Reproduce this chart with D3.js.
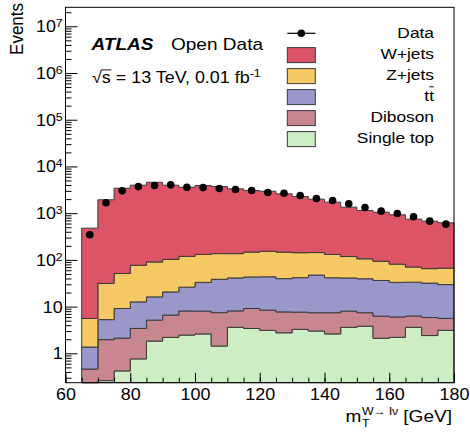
<!DOCTYPE html>
<html>
<head>
<meta charset="utf-8">
<script src="https://cdn.jsdelivr.net/npm/d3@7"></script>
<style>
	body { margin: 0; background: #fff; }
	text { font-family: "Liberation Sans", Arial, sans-serif; fill: #000; }
</style>
</head>
<body>
<script>

	// bin lower edges [GeV], width 5
	var binLow = [65, 70, 75, 80, 85, 90, 95, 100, 105, 110, 115, 120, 125, 130, 135, 140, 145, 150, 155, 160, 165, 170, 175];
	var binWidth = 5;

	// events per bin
	var data      = [346, 1667, 3006, 3708, 3900, 4036, 3589, 3527, 3365, 3200, 3050, 2763, 2672, 2384, 2058, 1866, 1585, 1322, 1104, 985, 838, 675, 582];
	var wjets     = [472, 1901, 3363, 3886, 4490, 3860, 3470, 3769, 3572, 3177, 2903, 2793, 2441, 2127, 1847, 1588, 1225, 1035, 957, 843, 675, 610, 557];
	var zjets     = [4.2, 26, 42, 64, 74, 82, 93, 98, 98, 95, 104, 110, 107, 101, 96, 89, 77, 66, 57, 48, 37, 33, 37];
	var ttbar     = [0.9, 3.3, 7.0, 9.2, 11, 14, 18, 25, 31, 33, 34, 35, 32, 34, 40, 34, 33, 32, 30, 27, 27, 26, 24];
	var diboson   = [0.36, 1.7, 1.7, 2.65, 3.3, 4.4, 5.6, 5.4, 6.0, 4.5, 5.7, 5.3, 4.95, 4.35, 4.4, 4.8, 4.4, 3.6, 4.15, 3.8, 2.7, 3.45, 2.5];
	var singleTop = [0.1, 0.26, 0.42, 0.76, 1.83, 2.19, 2.46, 2.6, 1.43, 3.6, 3.4, 3.1, 2.75, 3.25, 3.0, 2.6, 3.6, 3.8, 2.1, 2.2, 3.6, 2.4, 3.1];

	var xMajor = [60, 80, 100, 120, 140, 160, 180];
	var yMajor = [1, 10, 100, 1e3, 1e4, 1e5, 1e6, 1e7];

	// canvas
	var width = 470, height = 438;
	var plot = {left: 65.5, right: 454, top: 7.3, bottom: 382.7};
	var stretch = 1.12; // text in the picture is a bit wide

	var svg = d3.select('body')
		.append('svg')
		.attr('width', width)
		.attr('height', height);

	var xScale = d3.scaleLinear()
		.domain([60, 180])
		.range([plot.left, plot.right]);

	var yScale = d3.scaleLog()
		.domain([0.235, 2.55e7])
		.range([plot.bottom, plot.top])
		.clamp(true);

	function yv(v) { return yScale(Math.max(v, 1e-3)); }

	// stacked layers, bottom first
	var layers = [
		{name: 'Single top', values: singleTop, color: '#cdedc4'},
		{name: 'Diboson',    values: diboson,   color: '#c8878e'},
		{name: 'tt',         values: ttbar,     color: '#9a98cb'},
		{name: 'Z+jets',     values: zjets,     color: '#f7c965'},
		{name: 'W+jets',     values: wjets,     color: '#dd5467'}
	];

	var base = binLow.map(function() { return 0; });
	layers.forEach(function(l) {
		l.y0 = base;
		l.y1 = base.map(function(b, i) { return b + l.values[i]; });
		base = l.y1;
	});

	var edges = binLow.concat([binLow[binLow.length - 1] + binWidth]);
	var n = binLow.length;

	var area = d3.area()
		.curve(d3.curveStepAfter)
		.x(function(d) { return xScale(d.x); })
		.y0(function(d) { return yv(d.y0); })
		.y1(function(d) { return yv(d.y1); });

	layers.forEach(function(l) {
		var pts = edges.map(function(e, i) {
			var k = Math.min(i, n - 1);
			return {x: e, y0: l.y0[k], y1: l.y1[k]};
		});
		svg.append('path')
			.attr('d', area(pts))
			.attr('fill', l.color)
			.attr('stroke', '#3a3a3a')
			.attr('stroke-width', 1);
	});

	// data points
	var pts = svg.append('g');
	data.forEach(function(v, i) {
		var cx = xScale(binLow[i] + binWidth / 2);
		var err = Math.sqrt(v);
		pts.append('line')
			.attr('x1', cx).attr('x2', cx)
			.attr('y1', yv(v - err)).attr('y2', yv(v + err))
			.attr('stroke', '#000').attr('stroke-width', 1);
		pts.append('circle')
			.attr('cx', cx).attr('cy', yv(v))
			.attr('r', 3.8)
			.attr('fill', '#000');
	});

	// axes
	var xAxis = svg.append('g')
		.attr('transform', 'translate(0,' + plot.bottom + ')')
		.call(d3.axisBottom(xScale).tickValues(xMajor).tickSize(-10).tickPadding(6.4));
	svg.append('g')
		.attr('transform', 'translate(0,' + plot.bottom + ')')
		.call(d3.axisBottom(xScale).tickValues(d3.range(60, 181, 5)).tickSize(-5).tickFormat(''));

	var yMinor = [];
	for (var e = -1; e <= 7; e++) {
		for (var m = 2; m <= 9; m++) {
			var v = m * Math.pow(10, e);
			if (v > 0.235 && v < 2.55e7) yMinor.push(v);
		}
	}
	var yAxis = svg.append('g')
		.attr('transform', 'translate(' + plot.left + ',0)')
		.call(d3.axisLeft(yScale).tickValues(yMajor).tickSize(-12).tickPadding(2.5).tickFormat(''));
	svg.append('g')
		.attr('transform', 'translate(' + plot.left + ',0)')
		.call(d3.axisLeft(yScale).tickValues(yMinor).tickSize(-6).tickFormat(''));

	svg.selectAll('.domain').remove();
	svg.selectAll('.tick line').attr('stroke', '#000');

	xAxis.selectAll('text')
		.style('font-size', '16px')
		.attr('transform', 'scale(' + stretch + ',1)');

	yAxis.selectAll('.tick').each(function(d) {
		var t = d3.select(this).select('text')
			.style('font-size', '16px')
			.attr('dy', '0.34em')
			.attr('transform', 'scale(' + stretch + ',1)');
		var p = Math.round(Math.log10(d));
		if (p <= 1) {
			t.text(String(d));
		} else {
			t.text('10');
			t.append('tspan').attr('dy', '-0.45em').style('font-size', '11px').text(p);
		}
	});

	// frame
	svg.append('rect')
		.attr('x', plot.left).attr('y', plot.top)
		.attr('width', plot.right - plot.left)
		.attr('height', plot.bottom - plot.top)
		.attr('fill', 'none')
		.attr('stroke', '#000')
		.attr('stroke-width', 1);

	// text helper: a group, stretched sideways
	function label(gx, gy, size) {
		return svg.append('g')
			.attr('transform', 'translate(' + gx + ',' + gy + ') scale(' + stretch + ',1)')
			.append('text')
			.style('font-size', size + 'px');
	}

	label(91.5, 50, 17).style('font-weight', 'bold').style('font-style', 'italic').text('ATLAS');
	label(171, 50, 17).text('Open Data');

	var rs = label(92, 82.5, 16).text('\u221as = 13 TeV, 0.01 fb');
	rs.append('tspan').attr('dy', '-0.5em').style('font-size', '11px').text('-1');
	var rsNode = rs.node();
	var wRoot = rsNode.getSubStringLength(0, 1);
	var wS = rsNode.getSubStringLength(1, 1);
	d3.select(rsNode.parentNode).append('line')
		.attr('x1', wRoot - 1).attr('x2', wRoot + wS + 0.5)
		.attr('y1', -12.6).attr('y2', -12.6)
		.attr('stroke', '#000').attr('stroke-width', 0.9);

	// y title
	svg.append('g')
		.attr('transform', 'translate(23,3) scale(' + stretch + ',1) rotate(-90)')
		.append('text')
		.attr('text-anchor', 'end')
		.style('font-size', '17px')
		.text('Events');

	// x title
	var xt = svg.append('g');
	var tm = xt.append('text').style('font-size', '17px').text('m');
	var wm = tm.node().getComputedTextLength();
	var sup = xt.append('text').attr('x', wm + 0.5).attr('y', -7).style('font-size', '11px').text('W\u2192 l\u03bd');
	xt.append('text').attr('x', wm + 0.5).attr('y', 5).style('font-size', '11px').text('T');
	var wsup = sup.node().getComputedTextLength();
	var gev = xt.append('text').attr('x', wm + wsup + 5).style('font-size', '17px').text('[GeV]');
	var total = wm + wsup + 5 + gev.node().getComputedTextLength();
	xt.attr('transform', 'translate(' + (452 - total * stretch) + ',422) scale(' + stretch + ',1)');

	// legend
	var legY = 38.3, legStep = 21, boxX = 287.3, boxW = 28, textX = 434;
	var entries = [{name: 'Data'}].concat(layers.slice().reverse());
	entries.forEach(function(d, i) {
		var by = legY + i * legStep;
		var t = label(textX, by, 15.5).attr('text-anchor', 'end').text(d.name);
		if (d.name === 'tt') {
			var node = t.node();
			var w2 = node.getSubStringLength(1, 1);
			d3.select(node.parentNode).append('line')
				.attr('x1', -w2 + 0.3).attr('x2', -0.3)
				.attr('y1', -14.5).attr('y2', -14.5)
				.attr('stroke', '#000').attr('stroke-width', 1);
		}
		if (i === 0) {
			svg.append('line')
				.attr('x1', boxX).attr('x2', boxX + boxW)
				.attr('y1', by - 5).attr('y2', by - 5)
				.attr('stroke', '#000').attr('stroke-width', 1.2);
			svg.append('circle')
				.attr('cx', boxX + boxW / 2).attr('cy', by - 5)
				.attr('r', 3.8).attr('fill', '#000');
		} else {
			svg.append('rect')
				.attr('x', boxX).attr('y', by - 11.7)
				.attr('width', boxW).attr('height', 15)
				.attr('fill', d.color)
				.attr('stroke', '#3a3a3a')
				.attr('stroke-width', 1);
		}
	});

</script>
</body>
</html>
